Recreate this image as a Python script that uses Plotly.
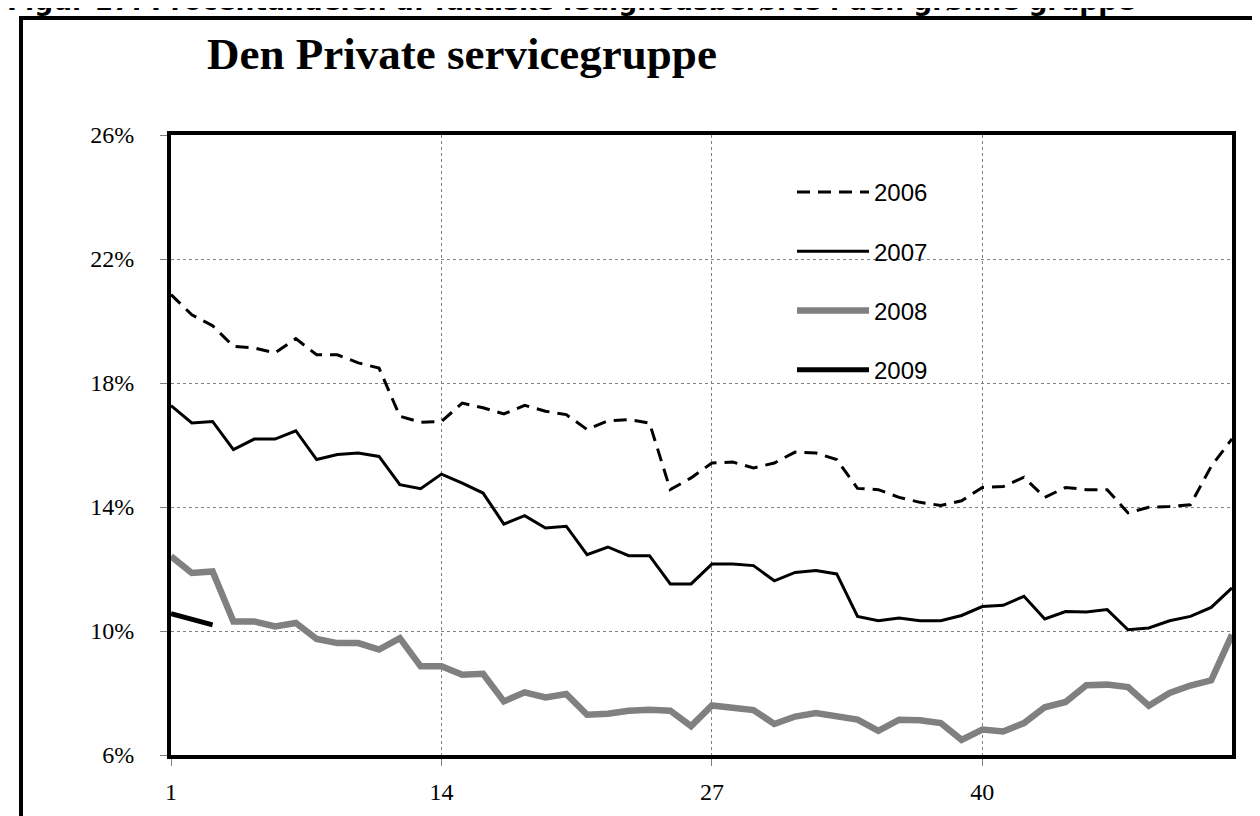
import plotly.graph_objects as go

weeks = list(range(1, 53))
weeks_2009 = [1, 2, 3]

s2006 = [20.85, 20.2, 19.85, 19.18, 19.13, 18.97, 19.43, 18.91, 18.91, 18.65,
         18.48, 16.93, 16.73, 16.76, 17.35, 17.2, 17.0, 17.28, 17.09, 16.98,
         16.5, 16.78, 16.82, 16.71, 14.56, 14.94, 15.42, 15.45, 15.26, 15.42,
         15.77, 15.74, 15.53, 14.6, 14.56, 14.31, 14.15, 14.05, 14.2, 14.63,
         14.66, 14.96, 14.31, 14.63, 14.56, 14.56, 13.81, 13.99, 14.02, 14.07,
         15.31, 16.2]
s2007 = [17.27, 16.71, 16.76, 15.85, 16.19, 16.19, 16.46, 15.53, 15.69, 15.74,
         15.63, 14.72, 14.59, 15.06, 14.77, 14.45, 13.45, 13.72, 13.32, 13.38,
         12.46, 12.71, 12.43, 12.43, 11.52, 11.52, 12.16, 12.16, 12.11, 11.62,
         11.89, 11.95, 11.84, 10.47, 10.33, 10.42, 10.33, 10.33, 10.5, 10.79,
         10.83, 11.12, 10.39, 10.63, 10.61, 10.69, 10.04, 10.1, 10.33, 10.47,
         10.76, 11.39]
s2008 = [12.41, 11.87, 11.92, 10.31, 10.31, 10.15, 10.26, 9.74, 9.61, 9.61,
         9.4, 9.77, 8.86, 8.86, 8.59, 8.62, 7.73, 8.02, 7.86, 7.97,
         7.3, 7.33, 7.43, 7.46, 7.43, 6.93, 7.6, 7.54, 7.45, 7.0,
         7.24, 7.35, 7.22, 7.14, 6.78, 7.14, 7.12, 7.03, 6.49, 6.82,
         6.76, 7.03, 7.54, 7.71, 8.25, 8.27, 8.19, 7.59, 8.0, 8.24,
         8.41, 9.88]
s2009 = [10.56, 10.37, 10.2]

series_names = ["2006", "2007", "2008", "2009"]
x_ticks = [1, 14, 27, 40]
y_ticks = [6, 10, 14, 18, 22, 26]

title_text = "Den Private servicegruppe"
caption_text = "Figur 17: Procentandelen af faktiske ledighedsberørte i den grønne gruppe"

W, H = 1260, 816
L, R, T, B = 163, 1224, 127, 747


def px(x):
    return (x - L) / (R - L)


def py(y):
    return (B - y) / (B - T)


fig = go.Figure()
fig.add_trace(go.Scatter(x=weeks, y=s2006, mode="lines", name=series_names[0], legendgroup="a",
                         line=dict(color="black", width=3, dash="13px,8px")))
fig.add_trace(go.Scatter(x=weeks, y=s2007, mode="lines", name=series_names[1], legendgroup="b",
                         line=dict(color="black", width=3)))
fig.add_trace(go.Scatter(x=weeks, y=s2008, mode="lines", name=series_names[2], legendgroup="c",
                         line=dict(color="#808080", width=6.5)))
fig.add_trace(go.Scatter(x=weeks_2009, y=s2009, mode="lines", name=series_names[3], legendgroup="d",
                         line=dict(color="black", width=5)))

fig.update_layout(
    width=W, height=H,
    margin=dict(l=L, r=W - R, t=T, b=H - B, autoexpand=False),
    paper_bgcolor="white", plot_bgcolor="white",
    showlegend=True,
    legend=dict(x=px(784), y=py(162), xanchor="left", yanchor="top",
                bgcolor="rgba(0,0,0,0)", borderwidth=0,
                font=dict(family="Liberation Sans, Arial", size=24, color="black"),
                tracegroupgap=25, itemwidth=72),
    shapes=[
        dict(type="rect", xref="paper", yref="paper", layer="between",
             x0=px(723), x1=px(1001), y0=py(400), y1=py(163),
             fillcolor="white", line=dict(width=0)),
        dict(type="rect", xref="paper", yref="paper", layer="above",
             x0=px(13), x1=px(1300), y0=py(860), y1=py(10),
             fillcolor="rgba(0,0,0,0)", line=dict(color="black", width=4)),
    ],
    annotations=[
        dict(text="<b>" + title_text + "</b>", xref="paper", yref="paper",
             x=px(197), y=py(46), xanchor="left", yanchor="middle", showarrow=False,
             font=dict(family="Liberation Serif, Times New Roman", size=45, color="black")),
        dict(text="<b>" + caption_text + "</b>", xref="paper", yref="paper",
             x=px(-3), y=py(10), xanchor="left", yanchor="bottom", showarrow=False,
             font=dict(family="DejaVu Sans, Verdana", size=26.5, color="black")),
    ],
)

fig.update_xaxes(range=[1, 52], tickmode="array", tickvals=x_ticks, ticktext=[str(v) for v in x_ticks],
                 showgrid=True, gridcolor="#808080", gridwidth=1, griddash="dot",
                 showline=True, linecolor="black", linewidth=4, mirror=True,
                 ticks="outside", ticklen=7, tickcolor="#808080", tickwidth=1,
                 ticklabelstandoff=5, zeroline=False,
                 tickfont=dict(family="Liberation Serif, Times New Roman", size=24, color="black"))
fig.update_yaxes(range=[6, 26], tickmode="array", tickvals=y_ticks, ticktext=[f"{v}%" for v in y_ticks],
                 showgrid=True, gridcolor="#808080", gridwidth=1, griddash="dot",
                 showline=True, linecolor="black", linewidth=4, mirror=True,
                 ticks="outside", ticklen=7, tickcolor="#808080", tickwidth=1,
                 ticklabelstandoff=21, zeroline=False,
                 tickfont=dict(family="Liberation Serif, Times New Roman", size=24, color="black"))

fig.write_html("out.html")
